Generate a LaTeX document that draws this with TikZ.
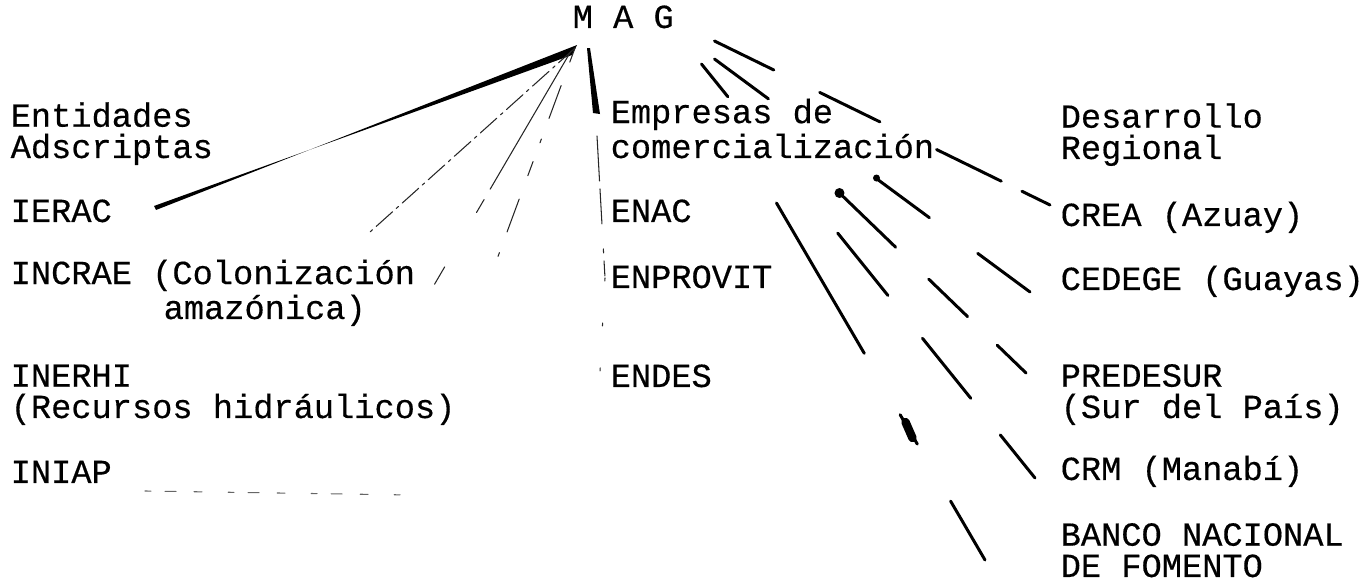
\documentclass[tikz,border=0pt]{standalone}
\usepackage{fontspec}
\setmainfont{Liberation Mono}[FakeBold=0.4]
\usetikzlibrary{calc}
\begin{document}
\begin{tikzpicture}[x=0.01cm,y=-0.01cm,line join=round,line cap=round,
  font=\fontsize{9.58}{8.9}\selectfont,
  every node/.style={inner sep=0pt,anchor=base west,align=left},
  seg/.style={line width=0.85pt},
  fine/.style={line width=0.3pt,black!85}]
\useasboundingbox(0,0)rectangle(1363,583);
% top
\node(mag)at(572,28){M A G};
% left column (multi-line nodes sit on their last line)
\node(entidades)at(10,158){Entidades\\Adscriptas};
\node(ierac)at(10,222){IERAC};
\node(incrae)at(10,319){INCRAE (Colonización\\\hspace*{43.5pt}amazónica)};
\node(inerhi)at(10,418){INERHI\\(Recursos hidráulicos)};
\node(iniap)at(10,483){INIAP};
% middle column
\node(empresas)at(610,158){Empresas de\\comercialización};
\node(enac)at(610,222){ENAC};
\node(enprovit)at(610,288){ENPROVIT};
\node(endes)at(610,387){ENDES};
% right column
\node(desarrollo)at(1060,159){Desarrollo\\Regional};
\node(crea)at(1060,226){CREA (Azuay)};
\node(cedege)at(1060,290){CEDEGE (Guayas)};
\node(predesur)at(1060,418){PREDESUR\\(Sur del País)};
\node(crm)at(1060,480){CRM (Manabí)};
\node(banco)at(1060,577){BANCO NACIONAL\\DE FOMENTO};
% starting points below MAG
\coordinate(mag-l)at($(mag.south west)+(3,19)$);
\coordinate(mag-m)at($(mag.south west)+(15,19)$);
\coordinate(mag-r)at($(mag.south east)+(40,12)$);
% Entidades Adscriptas
\fill(mag-l)++(2,-3)--($(ierac.base west)+(146,-12)$)--($(ierac.base west)+(144,-16)$)--($(mag-l)+(-3,7)$)--cycle;
\draw[fine,dash pattern=on 2.2mm off 0.5mm on 0.3mm off 0.5mm](mag-l)--($(ierac.base west)+(360,10)$);
\draw[fine,dash pattern=on 16mm off 1.2mm on 1.5mm off 6.3mm on 2mm off 9mm]($(mag-l)+(-4,3)$)--($(incrae.base west)+(420,-27)$);
\draw[fine,dash pattern=on 1.5mm off 2.5mm on 3.5mm off 2.2mm on 0.4mm off 2mm](mag-l)--($(incrae.base west)+(483,-49)$);
\draw[fine,black!60,dash pattern=on 0.6mm off 1.4mm on 1.1mm off 1.8mm on 0.8mm off 2.6mm]($(iniap.base west)+(135,8)$)--($(iniap.base west)+(400,12)$);
% Empresas de comercializacion
\fill(mag-m)--++(3,0)--($(mag-m)+(13,66)$)--($(mag-m)+(6,65)$)--cycle;
\draw[fine,dash pattern=on 4.5mm off 0.8mm on 3.5mm off 2.5mm on 0.4mm off 0.8mm on 1.5mm off 0.5mm on 1mm]($(mag-m)+(10,88)$)--($(enprovit.base west)+(-5,-10)$);
\draw[fine,dash pattern=on 0.3mm off 4.2mm]($(enprovit.base west)+(-5,-10)$)--($(endes.base west)+(-10,-15)$);
% Desarrollo Regional
\draw[seg,dash pattern=on 6.6mm off 5.1mm on 6.7mm off 6.3mm on 7.2mm off 2.3mm on 3.2mm off 10mm](mag-r)--($(crea.base west)+(-10,-21)$);
\draw[seg,dash pattern=on 6.7mm off 13.4mm on 6.6mm off 6mm on 6.6mm off 10mm]($(mag-r)+(0,18)$)--($(cedege.base west)+(-30,2)$);
\fill($(mag-r)+(162,137)$)circle(3.5);
\draw[seg,dash pattern=on 7.8mm off 4.6mm on 5.4mm off 4.1mm on 4mm off 10mm]($(mag-r)+(125,152)$)--($(predesur.base west)+(-34,-45)$);
\fill($(mag-r)+(125,152)$)circle(5);
\draw[seg,dash pattern=on 4.2mm off 17.5mm on 8mm off 5.5mm on 7.7mm off 4.7mm on 5.7mm off 10mm]($(mag-r)+(-13,23)$)--($(crm.base west)+(-25,-2)$);
\draw[seg,dash pattern=on 17.4mm off 7.1mm on 3.4mm off 6.6mm on 6.9mm off 10mm]($(mag-r)+(62,162)$)--($(banco.base west)+(-75,-17)$);
\draw[line width=2.4pt]($(mag-r)+(191,381)$)--($(mag-r)+(198,397)$);
\end{tikzpicture}
\end{document}
